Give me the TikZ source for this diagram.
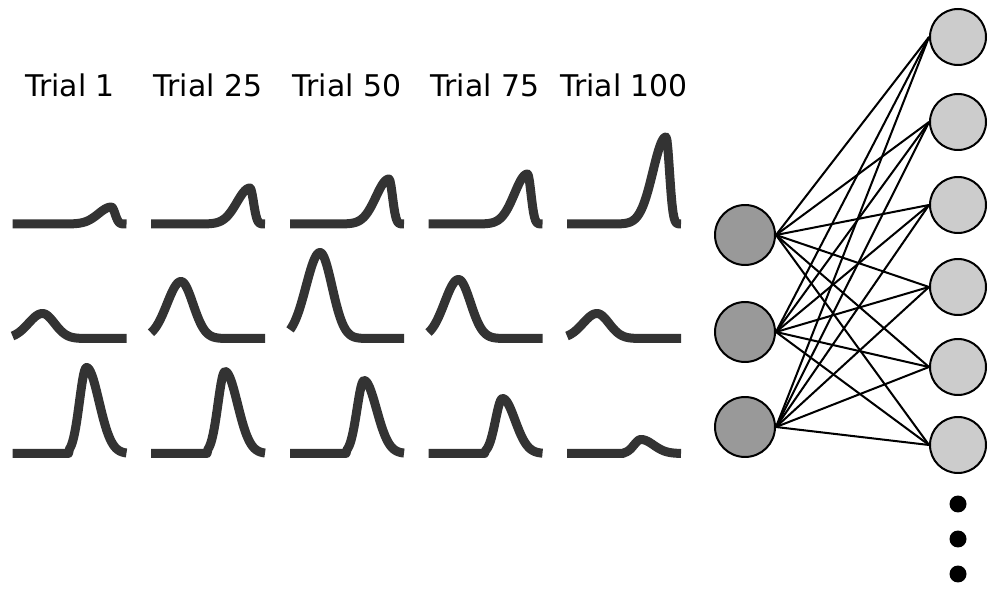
\documentclass[tikz,border=0pt]{standalone}
\usepackage{fontspec}
\setmainfont{DejaVu Sans}
\tikzset{
	trace/.style={line width=0.18cm, color=black!80, line join=round},
	trial/.style={anchor=base, font=\fontsize{17}{20}\selectfont},
	inunit/.style={circle, draw, line width=0.04cm, fill=black!40, minimum size=1.2cm, inner sep=0pt},
	outunit/.style={circle, draw, line width=0.04cm, fill=black!20, minimum size=1.12cm, inner sep=0pt},
	moredot/.style={circle, fill=black, minimum size=0.34cm, inner sep=0pt},
	link/.style={line width=1.15pt},
	declare function={
		gs(\d,\s)=exp(-min(((\d)/(\s))*((\d)/(\s))/2,9));
		late(\t)=(\t<99)*gs(\t-99,13)+(\t>=99)*gs(\t-99,3.5);
		early(\t)=(\t<30)*gs(\t-30,14)+(\t>=30)*gs(\t-30,12);
		mid(\t)=(\t>=57)*(\t<74)*gs(\t-74,7)+(\t>=74)*gs(\t-74,12.5);
	}
}
\def\trialcurve(#1,#2)(#3:#4){\draw[trace] plot[domain=0:114, samples=115] ({#1+\x}, {#2-#4*#3(\x)});}

\begin{document}
\begin{tikzpicture}[x=0.02cm, y=-0.02cm]
			%%%%% START %%%%%
			\useasboundingbox (0, 0) rectangle (998, 594);
			
			\node[trial] (t1) at (70, 97) {Trial 1};
			\node[trial] (t25) at (208, 97) {Trial 25};
			\node[trial] (t50) at (347, 97) {Trial 50};
			\node[trial] (t75) at (485, 97) {Trial 75};
			\node[trial] (t100) at (624, 97) {Trial 100};
			
			% first row
			\trialcurve(12.5, 224)(late:17);
			\trialcurve(151, 224)(late:36);
			\trialcurve(290, 224)(late:45);
			\trialcurve(428.5, 224)(late:50);
			\trialcurve(567, 224)(late:87);
			
			% second row
			\trialcurve(12.5, 338.5)(early:25);
			\trialcurve(151, 338.5)(early:57);
			\trialcurve(290, 338.5)(early:86);
			\trialcurve(428.5, 338.5)(early:59);
			\trialcurve(567, 338.5)(early:25);
			
			% third row
			\trialcurve(12.5, 453.5)(mid:86);
			\trialcurve(151, 453.5)(mid:82);
			\trialcurve(290, 453.5)(mid:73);
			\trialcurve(428.5, 453.5)(mid:55);
			\trialcurve(567, 453.5)(mid:14);
			
			\node[inunit] (in1) at (745, 235) {};
			\node[inunit] (in2) at (745, 332) {};
			\node[inunit] (in3) at (745, 427) {};
			
			\node[outunit] (out1) at (958, 37) {};
			\node[outunit] (out2) at (958, 122) {};
			\node[outunit] (out3) at (958, 205) {};
			\node[outunit] (out4) at (958, 287) {};
			\node[outunit] (out5) at (958, 367) {};
			\node[outunit] (out6) at (958, 445) {};
			
			\node[moredot] (dot1) at (958, 504) {};
			\node[moredot] (dot2) at (958, 539) {};
			\node[moredot] (dot3) at (958, 574) {};
			
			\draw[link] (in1.east) -- (out1.west);
			\draw[link] (in1.east) -- (out2.west);
			\draw[link] (in1.east) -- (out3.west);
			\draw[link] (in1.east) -- (out4.west);
			\draw[link] (in1.east) -- (out5.west);
			\draw[link] (in1.east) -- (out6.west);
			
			\draw[link] (in2.east) -- (out1.west);
			\draw[link] (in2.east) -- (out2.west);
			\draw[link] (in2.east) -- (out3.west);
			\draw[link] (in2.east) -- (out4.west);
			\draw[link] (in2.east) -- (out5.west);
			\draw[link] (in2.east) -- (out6.west);
			
			\draw[link] (in3.east) -- (out1.west);
			\draw[link] (in3.east) -- (out2.west);
			\draw[link] (in3.east) -- (out3.west);
			\draw[link] (in3.east) -- (out4.west);
			\draw[link] (in3.east) -- (out5.west);
			\draw[link] (in3.east) -- (out6.west);
			
			%%%%% END %%%%%
\end{tikzpicture}
\end{document}
